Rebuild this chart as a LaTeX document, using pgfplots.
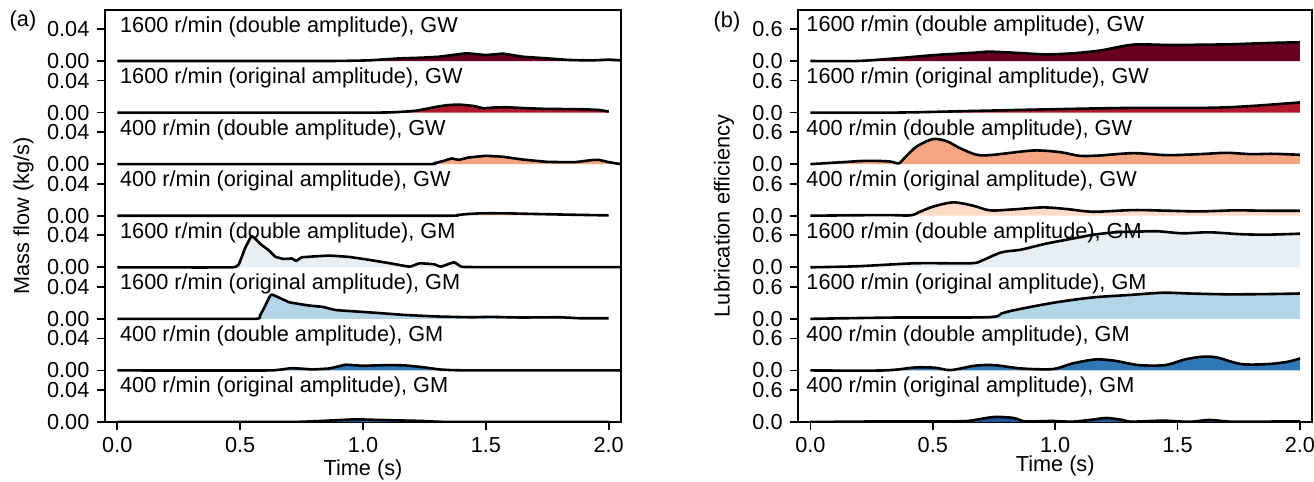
\documentclass[border=0pt]{standalone}
\usepackage{fontspec}
\setmainfont{Liberation Sans}
\usepackage{pgfplots}
\usepackage{pgfplotstable}
\pgfplotsset{compat=1.18}

\definecolor{cA}{RGB}{103,0,31}
\definecolor{cB}{RGB}{178,24,43}
\definecolor{cC}{RGB}{244,165,130}
\definecolor{cD}{RGB}{253,219,199}
\definecolor{cE}{RGB}{232,239,244}
\definecolor{cF}{RGB}{180,212,231}
\definecolor{cG}{RGB}{46,120,182}
\definecolor{cH}{RGB}{28,87,153}

% (a) mass flow, kg/s
\pgfplotstableread{
t y
0 0
0.85 0
1.02 0.0008
1.15 0.0033
1.24 0.0042
1.31 0.0054
1.42 0.0096
1.50 0.0075
1.57 0.0092
1.65 0.0054
1.75 0.0033
1.84 0.0013
1.93 0.0008
2.00 0.0017
2.05 0.0008
}\aA
\pgfplotstableread{
t y
0 0
1.05 0
1.15 0.0008
1.22 0.0025
1.29 0.0067
1.34 0.0092
1.39 0.0100
1.45 0.0083
1.49 0.0054
1.53 0.0063
1.58 0.0067
1.67 0.0054
1.75 0.0046
1.89 0.0042
1.96 0.0033
2.00 0.0013
}\aB
\pgfplotstableread{
t y
0 0
1.25 0
1.29 0.0012
1.33 0.0042
1.36 0.0071
1.39 0.0054
1.43 0.0083
1.50 0.0104
1.57 0.0092
1.65 0.0058
1.75 0.0029
1.86 0.0025
1.93 0.0050
1.96 0.0054
2.00 0.0025
2.05 0
}\aC
\pgfplotstableread{
t y
0 0
1.34 0
1.38 0.0007
1.42 0.0020
1.48 0.0030
1.58 0.0030
1.70 0.0022
1.84 0.0013
2.00 0.0004
}\aD
\pgfplotstableread{
t y
0 0
0.47 0
0.50 0.008
0.52 0.0238
0.546 0.039
0.56 0.036
0.587 0.028
0.615 0.0217
0.643 0.0133
0.677 0.0104
0.711 0.011
0.728 0.0079
0.752 0.0125
0.862 0.0146
0.945 0.0129
1.027 0.0092
1.11 0.005
1.19 0.0008
1.23 0.005
1.289 0.0038
1.317 0.0008
1.37 0.0063
1.40 0.0008
1.45 0.0003
2.05 0.0003
}\aE
\pgfplotstableread{
t y
0 0
0.56 0
0.58 0.004
0.60 0.015
0.627 0.0304
0.70 0.0208
0.78 0.0167
0.835 0.015
0.89 0.011
0.973 0.0092
1.055 0.0075
1.165 0.005
1.30 0.003
1.44 0.002
1.52 0.0025
1.645 0.0017
1.80 0.002
1.88 0.0008
2.00 0.0008
}\aF
\pgfplotstableread{
t y
0 0
0.62 0
0.71 0.0029
0.794 0.0013
0.863 0.0025
0.93 0.0071
1.00 0.0058
1.10 0.0067
1.17 0.0063
1.24 0.0042
1.31 0.0013
1.36 0.0004
1.45 0
2.05 0
}\aG
\pgfplotstableread{
t y
0 0
0.70 0
0.83 0.0013
0.966 0.0033
1.07 0.0025
1.24 0.0013
1.33 0.0002
2.00 0
}\aH

% (b) lubrication efficiency
\pgfplotstableread{
t y
0 0
0.19 0
0.35 0.05
0.51 0.1125
0.67 0.156
0.73 0.175
0.83 0.156
0.96 0.125
1.07 0.144
1.18 0.194
1.28 0.281
1.34 0.3125
1.47 0.30
1.60 0.306
1.71 0.3125
1.82 0.33
1.92 0.344
2.00 0.35
}\bA
\pgfplotstableread{
t y
0 0
0.35 0
0.67 0.031
0.99 0.0625
1.31 0.0875
1.63 0.09
1.79 0.12
2.00 0.19
}\bB
\pgfplotstableread{
t y
0 0
0.133 0.0375
0.23 0.0625
0.325 0.05
0.36 0.0125
0.39 0.144
0.434 0.33
0.50 0.47
0.557 0.43
0.611 0.3
0.68 0.175
0.747 0.175
0.91 0.256
1.02 0.225
1.10 0.156
1.18 0.162
1.32 0.206
1.456 0.169
1.59 0.1875
1.70 0.2125
1.80 0.1875
1.89 0.194
2.00 0.175
}\bC
\pgfplotstableread{
t y
0 0
0.30 0.0125
0.407 0.006
0.448 0.075
0.50 0.169
0.583 0.25
0.665 0.1875
0.734 0.10
0.83 0.119
0.95 0.156
1.047 0.125
1.155 0.075
1.32 0.106
1.456 0.094
1.59 0.081
1.73 0.10
1.865 0.094
2.00 0.094
}\bD
\pgfplotstableread{
t y
0 0
0.19 0.019
0.43 0.075
0.653 0.075
0.70 0.125
0.78 0.28
0.86 0.33
0.957 0.4375
1.05 0.52
1.15 0.606
1.245 0.656
1.34 0.669
1.42 0.675
1.52 0.6375
1.63 0.656
1.76 0.62
1.87 0.6125
2.00 0.63
}\bE
\pgfplotstableread{
t y
0 0
0.35 0.025
0.725 0.031
0.78 0.10
0.83 0.16
0.99 0.30
1.15 0.40
1.31 0.45
1.44 0.49
1.55 0.475
1.71 0.46
1.87 0.465
2.00 0.475
}\bF
\pgfplotstableread{
t y
0 0
0.30 0
0.43 0.056
0.51 0.05
0.573 0.006
0.67 0.0875
0.75 0.10
0.86 0.0375
0.99 0.025
1.07 0.13
1.165 0.206
1.245 0.18
1.34 0.10
1.45 0.10
1.53 0.206
1.60 0.256
1.66 0.244
1.76 0.119
1.87 0.119
1.95 0.1625
2.00 0.225
}\bG
\pgfplotstableread{
t y
0 0
0.35 0.0125
0.59 0.0125
0.653 0.025
0.75 0.094
0.83 0.075
0.877 0.0125
0.99 0.019
1.07 0.006
1.15 0.044
1.21 0.075
1.277 0.0375
1.31 0.006
1.44 0.025
1.55 0.004
1.63 0.0375
1.72 0.006
1.87 0.008
2.00 0.0125
}\bH

% #1 table, #2 row offset, #3 fill colour, #4 last t, #5 tension
\newcommand{\ridge}[5]{%
  \addplot[fill=#3, draw=none, smooth, tension=#5]
    table[x=t, y expr=\thisrow{y}+#2] {#1}
    -- (axis cs:#4,#2) -- (axis cs:0,#2) -- cycle;
  \addplot[black, line width=1.3pt, line join=round, smooth, tension=#5]
    table[x=t, y expr=\thisrow{y}+#2] {#1};
}

\pgfplotsset{
  ridge/.style={
    scale only axis,
    height=206pt,
    xmin=-0.05, xmax=2.05,
    ymin=0,
    axis line style={line width=0.9pt},
    tick style={black, line width=0.9pt},
    major tick length=4pt,
    tick align=outside,
    xtick pos=bottom, ytick pos=left,
    xtick={0,0.5,1,1.5,2},
    xticklabels={0.0,0.5,1.0,1.5,2.0},
    every tick label/.style={font=\fontsize{10.85pt}{13pt}\selectfont},
  }
}

\begin{document}
\fontsize{10.85pt}{13pt}\selectfont
\begin{tikzpicture}
\path[use as bounding box] (0,0) rectangle (657pt,-241pt);

\begin{axis}[ridge, at={(52.5pt,-5pt)}, anchor=north west, width=258pt,
  ymax=0.515,
  ytick={0,0.04,0.06446,0.10446,0.12892,0.16892,0.19338,0.23338,0.25784,0.29784,0.3223,0.3623,0.38676,0.42676,0.45122,0.49122},
  yticklabels={0.00,0.04,0.00,0.04,0.00,0.04,0.00,0.04,0.00,0.04,0.00,0.04,0.00,0.04,0.00,0.04}]
\ridge{\aA}{0.45122}{cA}{2.05}{0.2}
\ridge{\aB}{0.38676}{cB}{2.00}{0.2}
\ridge{\aC}{0.3223}{cC}{2.05}{0.2}
\ridge{\aD}{0.25784}{cD}{2.00}{0.2}
\ridge{\aE}{0.19338}{cE}{2.05}{0.2}
\ridge{\aF}{0.12892}{cF}{2.00}{0.2}
\ridge{\aG}{0.06446}{cG}{2.05}{0.2}
\ridge{\aH}{0}{cH}{2.00}{0.2}
\node[anchor=base west, inner sep=0] at (axis cs:0.01,0.48747) {1600 r/min (double amplitude), GW};
\node[anchor=base west, inner sep=0] at (axis cs:0.01,0.42301) {1600 r/min (original amplitude), GW};
\node[anchor=base west, inner sep=0] at (axis cs:0.01,0.35855) {400 r/min (double amplitude), GW};
\node[anchor=base west, inner sep=0] at (axis cs:0.01,0.29409) {400 r/min (original amplitude), GW};
\node[anchor=base west, inner sep=0] at (axis cs:0.01,0.22963) {1600 r/min (double amplitude), GM};
\node[anchor=base west, inner sep=0] at (axis cs:0.01,0.16517) {1600 r/min (original amplitude), GM};
\node[anchor=base west, inner sep=0] at (axis cs:0.01,0.10071) {400 r/min (double amplitude), GM};
\node[anchor=base west, inner sep=0] at (axis cs:0.01,0.03625) {400 r/min (original amplitude), GM};
\end{axis}

\begin{axis}[ridge, at={(399.1pt,-5pt)}, anchor=north west, width=257pt,
  ymax=7.725,
  ytick={0,0.6,0.96694,1.56694,1.93388,2.53388,2.90082,3.50082,3.86776,4.46776,4.8347,5.4347,5.80164,6.40164,6.76858,7.36858},
  yticklabels={0.0,0.6,0.0,0.6,0.0,0.6,0.0,0.6,0.0,0.6,0.0,0.6,0.0,0.6,0.0,0.6}]
\ridge{\bA}{6.76858}{cA}{2.00}{0.5}
\ridge{\bB}{5.80164}{cB}{2.00}{0.5}
\ridge{\bC}{4.8347}{cC}{2.00}{0.5}
\ridge{\bD}{3.86776}{cD}{2.00}{0.5}
\ridge{\bE}{2.90082}{cE}{2.00}{0.5}
\ridge{\bF}{1.93388}{cF}{2.00}{0.5}
\ridge{\bG}{0.96694}{cG}{2.00}{0.5}
\ridge{\bH}{0}{cH}{2.00}{0.5}
\node[anchor=base west, inner sep=0] at (axis cs:-0.018,7.31258) {1600 r/min (double amplitude), GW};
\node[anchor=base west, inner sep=0] at (axis cs:-0.018,6.34564) {1600 r/min (original amplitude), GW};
\node[anchor=base west, inner sep=0] at (axis cs:-0.018,5.3787) {400 r/min (double amplitude), GW};
\node[anchor=base west, inner sep=0] at (axis cs:-0.018,4.41176) {400 r/min (original amplitude), GW};
\node[anchor=base west, inner sep=0] at (axis cs:-0.018,3.44482) {1600 r/min (double amplitude), GM};
\node[anchor=base west, inner sep=0] at (axis cs:-0.018,2.47788) {1600 r/min (original amplitude), GM};
\node[anchor=base west, inner sep=0] at (axis cs:-0.018,1.51094) {400 r/min (double amplitude), GM};
\node[anchor=base west, inner sep=0] at (axis cs:-0.018,0.544) {400 r/min (original amplitude), GM};
\end{axis}

\node at (11.5pt,-10.5pt) {(a)};
\node at (363.5pt,-11pt) {(b)};
\node[rotate=90] at (11.75pt,-108pt) {Mass flow (kg/s)};
\node[rotate=90] at (362pt,-108pt) {Lubrication efficiency};
\node at (181.5pt,-235pt) {Time (s)};
\node at (527.6pt,-233pt) {Time (s)};
\end{tikzpicture}
\end{document}
